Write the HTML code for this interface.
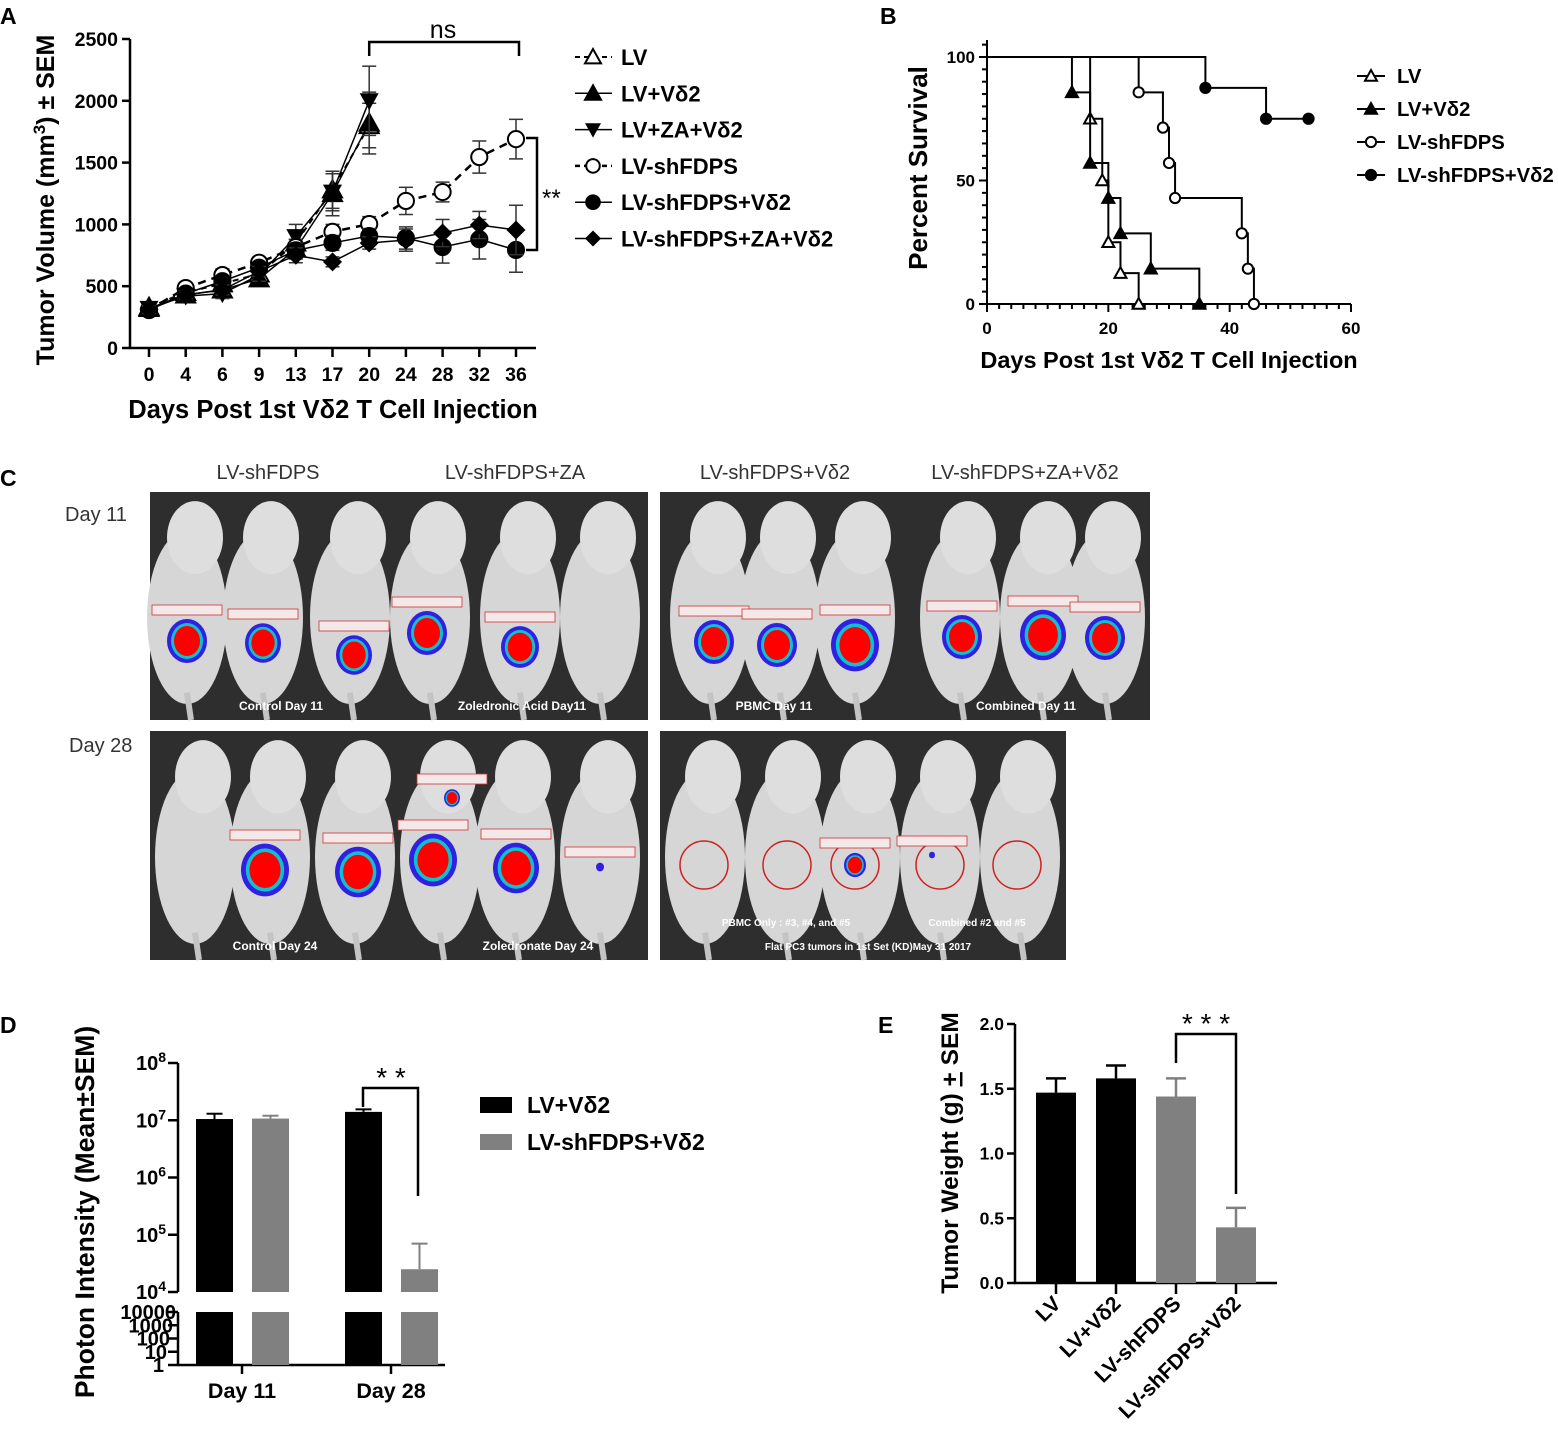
<!DOCTYPE html>
<html><head><meta charset="utf-8"><style>
html,body{margin:0;padding:0;background:#fff}
svg{display:block}
text{font-family:"Liberation Sans",Arial,sans-serif;font-weight:bold;fill:#000}
.n{font-weight:normal}
</style></head><body>
<svg id="fig" width="1558" height="1444" viewBox="0 0 1558 1444" xmlns="http://www.w3.org/2000/svg">
<g id="A"></g>
<g id="B"></g>
<g id="C"></g>
<g id="D"></g>
<g id="E"></g>
</svg>
<script>
// ---------- Panel A data ----------
const aDays = ["0","4","6","9","13","17","20","24","28","32","36"];
const aYTicks = [0,500,1000,1500,2000,2500];
const aLV = [330,450,520,600,850,1280,1800];
const aLVErr = [30,30,40,50,80,150,180];
const aLVV = [320,430,470,560,800,1250,1820];
const aLVVErr = [30,30,40,50,80,180,250];
const aLVZV = [320,420,440,590,900,1260,2000];
const aLVZVErr = [30,30,40,50,100,150,280];
const aSh = [307,485,590,690,817,940,1003,1190,1262,1545,1690];
const aShErr = [30,30,50,40,60,60,60,110,80,130,160];
const aShV = [310,440,540,650,790,850,906,890,817,880,793];
const aShVErr = [30,30,40,40,60,60,60,90,130,160,180];
const aShZV = [310,430,470,620,750,697,850,873,930,995,955];
const aShZVErr = [30,30,40,40,60,40,50,90,110,110,200];

// ---------- Panel B data ----------
const bXTicks = [0,20,40,60];
const bYTicks = [0,50,100];
const bLV = [[0,100],[17,75],[19,50],[20,25],[22,12.5],[25,0]];
const bLVV = [[0,100],[14,85.7],[17,57.1],[20,42.9],[22,28.6],[27,14.3],[35,0]];
const bSh = [[0,100],[25,85.7],[29,71.4],[30,57.1],[31,42.9],[42,28.6],[43,14.3],[44,0]];
const bShV = [[0,100],[36,87.5],[46,75],[53,75]];

// ---------- Panel D data ----------
const dGroups = ["Day 11","Day 28"];
const dBlack = [1.05e7,1.4e7];
const dBlackErr = [1.3e7,1.55e7];
const dGray = [1.07e7,2.5e4];
const dGrayErr = [1.2e7,7e4];
const dExp = [4,5,6,7,8];
const dLowTicks = ["10000","1000","100","10","1"];

// ---------- Panel E data ----------
const eCats = ["LV","LV+Vδ2","LV-shFDPS","LV-shFDPS+Vδ2"];
const eVals = [1.47,1.58,1.44,0.43];
const eErr = [0.11,0.10,0.14,0.15];
const eYTicks = ["0.0","0.5","1.0","1.5","2.0"];

const NS="http://www.w3.org/2000/svg";
function mk(parent,tag,attrs,txt){const e=document.createElementNS(NS,tag);for(const k in attrs)e.setAttribute(k,attrs[k]);if(txt!==undefined)e.textContent=txt;parent.appendChild(e);return e;}
function ln(p,x1,y1,x2,y2,w,c,dash){const e=mk(p,'line',{x1,y1,x2,y2,stroke:c||'#000','stroke-width':w||2});if(dash)e.setAttribute('stroke-dasharray',dash);return e;}
function marker(p,type,x,y,r){
  let e;
  if(type==='tri'||type==='otri'){e=mk(p,'polygon',{points:`${x},${y-r} ${x-r},${y+r*0.8} ${x+r},${y+r*0.8}`,fill:type==='tri'?'#000':'#fff',stroke:'#000','stroke-width':2});}
  else if(type==='dtri'){e=mk(p,'polygon',{points:`${x},${y+r} ${x-r},${y-r*0.8} ${x+r},${y-r*0.8}`,fill:'#000'});}
  else if(type==='circ'||type==='ocirc'){e=mk(p,'circle',{cx:x,cy:y,r:r*0.85,fill:type==='circ'?'#000':'#fff',stroke:'#000','stroke-width':2});}
  else {e=mk(p,'polygon',{points:`${x},${y-r} ${x+r},${y} ${x},${y+r} ${x-r},${y}`,fill:'#000'});}
  return e;
}

// ================= Panel A =================
(function(){
  const g=document.getElementById('A');
  const ax0=130, y0=348, yTop=39;
  const xs=i=>149+i*36.7;
  const ys=v=>y0-(v/2500)*(y0-yTop);
  mk(g,'text',{x:0,y:24,'font-size':23,},'A');
  ln(g,ax0,yTop,ax0,y0+1,2.5); ln(g,ax0-1,y0,536,y0,2.5);
  aYTicks.forEach(v=>{ln(g,ax0-8,ys(v),ax0,ys(v),2.5);const t=mk(g,'text',{x:ax0-12,y:ys(v)+7,'font-size':19.5,'text-anchor':'end'},v);});
  aDays.forEach((d,i)=>{ln(g,xs(i),y0,xs(i),y0+9,2.5);const t=mk(g,'text',{x:xs(i),y:381,'font-size':19.5,'text-anchor':'middle'},d);});
  mk(g,'text',{x:333,y:418,'font-size':25.5,'text-anchor':'middle',},'Days Post 1st Vδ2 T Cell Injection');
  const yt=mk(g,'text',{x:0,y:0,'font-size':25,'text-anchor':'middle',transform:'translate(54,200) rotate(-90)',});
  yt.innerHTML='Tumor Volume (mm<tspan dy="-9" font-size="17">3</tspan><tspan dy="9">) ± SEM</tspan>';
  const series=[
    {n:'lv',v:aLV,e:aLVErr,m:'otri',d:'6,5',w:2},
    {n:'lv-vd2',v:aLVV,e:aLVVErr,m:'tri',w:1.5},
    {n:'lv-za-vd2',v:aLVZV,e:aLVZVErr,m:'dtri',w:1.5},
    {n:'lv-shfdps',v:aSh,e:aShErr,m:'ocirc',d:'8,6',w:2.5},
    {n:'lv-shfdps-vd2',v:aShV,e:aShVErr,m:'circ',w:1.5},
    {n:'lv-shfdps-za-vd2',v:aShZV,e:aShZVErr,m:'dia',w:1.5}];
  series.forEach(s=>{
    const sg=mk(g,'g',{});
    
    
    s.v.forEach((v,i)=>{const x=xs(i);ln(sg,x,ys(v+s.e[i]),x,ys(v-s.e[i]),1.5,'#333');ln(sg,x-7,ys(v+s.e[i]),x+7,ys(v+s.e[i]),1.5,'#333');ln(sg,x-7,ys(v-s.e[i]),x+7,ys(v-s.e[i]),1.5,'#333');});
    const pts=s.v.map((v,i)=>xs(i)+','+ys(v)).join(' ');
    const pl=mk(sg,'polyline',{points:pts,fill:'none',stroke:'#000','stroke-width':s.w});
    if(s.d)pl.setAttribute('stroke-dasharray',s.d);
    s.v.forEach((v,i)=>{const m=marker(sg,s.m,xs(i),ys(v),9.5);});
  });
  const br=mk(g,'g',{});
  mk(br,'polyline',{points:`${xs(6)},56 ${xs(6)},42 ${xs(10)+3},42 ${xs(10)+3},56`,fill:'none',stroke:'#000','stroke-width':2.5});
  mk(br,'text',{x:443,y:38,'font-size':25,'text-anchor':'middle',class:'n'},'ns');
  const br2=mk(g,'g',{});
  mk(br2,'polyline',{points:`526,138 537,138 537,250 526,250`,fill:'none',stroke:'#000','stroke-width':2.5});
  mk(br2,'text',{x:542,y:206,'font-size':24,class:'n'},'**');
  const labs=['LV','LV+Vδ2','LV+ZA+Vδ2','LV-shFDPS','LV-shFDPS+Vδ2','LV-shFDPS+ZA+Vδ2'];
  series.forEach((s,i)=>{
    const y=57+i*36.3;
    const lg=mk(g,'g',{});
    
    
    const l=ln(lg,575,y,612,y,s.w);if(s.d)l.setAttribute('stroke-dasharray','5,4');
    marker(lg,s.m,593,y,8);
    mk(lg,'text',{x:621,y:y+8,'font-size':22},labs[i]);
  });
})();

// ================= Panel B =================
(function(){
  const g=document.getElementById('B');
  const x0=987,x1=1351,y0=304,y100=57;
  const xs=d=>x0+d*(x1-x0)/60, ys=v=>y0-v*(y0-y100)/100;
  mk(g,'text',{x:880,y:24,'font-size':23,},'B');
  ln(g,x0,40,x0,y0+1,2); ln(g,x0-1,y0,x1,y0,2);
  for(let v=0;v<=105;v+=5){ln(g,x0-(v%50===0?8:5),ys(v),x0,ys(v),2);}
  for(let d=0;d<=60;d+=2){ln(g,xs(d),y0,xs(d),y0+(d%20===0?8:5),2);}
  bYTicks.forEach(v=>{const t=mk(g,'text',{x:x0-12,y:ys(v)+6,'font-size':17,'text-anchor':'end'},v);});
  bXTicks.forEach(d=>{const t=mk(g,'text',{x:xs(d),y:334,'font-size':17,'text-anchor':'middle'},d);});
  mk(g,'text',{x:1169,y:368,'font-size':23.5,'text-anchor':'middle',},'Days Post 1st Vδ2 T Cell Injection');
  mk(g,'text',{x:0,y:0,'font-size':26,'text-anchor':'middle',transform:'translate(927,168) rotate(-90)',},'Percent Survival');
  const series=[{n:'lv',d:bLV,m:'otri',l:'LV'},{n:'lv-vd2',d:bLVV,m:'tri',l:'LV+Vδ2'},{n:'lv-shfdps',d:bSh,m:'ocirc',l:'LV-shFDPS'},{n:'lv-shfdps-vd2',d:bShV,m:'circ',l:'LV-shFDPS+Vδ2'}];
  series.forEach((s,si)=>{
    const sg=mk(g,'g',{});
    
    
    let p=[];
    s.d.forEach((pt,i)=>{if(i>0)p.push(xs(pt[0])+','+ys(s.d[i-1][1]));p.push(xs(pt[0])+','+ys(pt[1]));});
    mk(sg,'polyline',{points:p.join(' '),fill:'none',stroke:'#000','stroke-width':2});
    s.d.forEach((pt,i)=>{if(i>0){const m=marker(sg,s.m,xs(pt[0]),ys(pt[1]),6);}});
    const y=76+si*33;
    const lg=mk(g,'g',{});
    
    
    ln(lg,1357,y,1385,y,2);marker(lg,s.m,1371,y,6);
    mk(lg,'text',{x:1397,y:y+7,'font-size':20.3},s.l);
  });
})();

// ================= Panel C =================
(function(){
  const g=document.getElementById('C');
  mk(g,'text',{x:0,y:486,'font-size':23,},'C');
  const heads=[['LV-shFDPS',268],['LV-shFDPS+ZA',515],['LV-shFDPS+Vδ2',775],['LV-shFDPS+ZA+Vδ2',1025]];
  heads.forEach(h=>{const t=mk(g,'text',{x:h[1],y:479,'font-size':20,'text-anchor':'middle',class:'n'},h[0]);t.style.fill='#333';});
  const d1=mk(g,'text',{x:65,y:521,'font-size':20,class:'n',},'Day 11');d1.style.fill='#333';
  const d2=mk(g,'text',{x:69,y:752,'font-size':20,class:'n',},'Day 28');d2.style.fill='#333';
  const panels=[
    {x:150,y:492,w:498,h:228,mice:[187,263,350,430,520,600],blobs:[[187,641,20],[263,643,18],[354,655,18],[427,633,20],[520,647,19]],cap:[['Control Day 11',281],['Zoledronic Acid Day11',522]],n:'day11-left'},
    {x:660,y:492,w:490,h:228,mice:[710,780,855,960,1040,1105],blobs:[[714,642,20],[777,645,20],[855,645,24],[962,637,20],[1043,635,23],[1105,638,20]],cap:[['PBMC Day 11',774],['Combined Day 11',1026]],n:'day11-right'},
    {x:150,y:731,w:498,h:229,mice:[195,270,355,440,515,600],blobs:[[265,870,24],[358,872,23],[433,860,24],[516,868,23],[600,867,4],[452,798,8]],cap:[['Control Day 24',275],['Zoledronate Day 24',538]],n:'day28-left'},
    {x:660,y:731,w:406,h:229,mice:[705,785,860,940,1020],blobs:[[855,865,11],[932,855,3]],circles:[704,787,855,940,1017],cap:[['PBMC Only : #3, #4, and #5',786],['Combined #2 and #5',977],['Flat PC3 tumors in 1st Set (KD)May 31 2017',868]],n:'day28-right'}];
  panels.forEach(P=>{
    const pg=mk(g,'g',{});
    
    
    mk(pg,'rect',{x:P.x,y:P.y,width:P.w,height:P.h,fill:'#2e2e2e'});
    P.mice.forEach(mx=>{
      mk(pg,'ellipse',{cx:mx,cy:P.y+P.h*0.55,rx:40,ry:P.h*0.38,fill:'#d6d6d6'});
      mk(pg,'ellipse',{cx:mx+8,cy:P.y+P.h*0.2,rx:28,ry:P.h*0.16,fill:'#dedede'});
      ln(pg,mx,P.y+P.h*0.88,mx+4,P.y+P.h,6,'#c4c4c4');
    });
    (P.circles||[]).forEach(cx=>{mk(pg,'circle',{cx,cy:865,r:24,fill:'none',stroke:'#d02020','stroke-width':1.5});});
    P.blobs.forEach(b=>{
      mk(pg,'ellipse',{cx:b[0],cy:b[1],rx:b[2],ry:b[2]*1.1,fill:'#3020e0'});
      if(b[2]>6){mk(pg,'ellipse',{cx:b[0],cy:b[1],rx:b[2]*0.8,ry:b[2]*0.9,fill:'#10c0d0'});
      mk(pg,'ellipse',{cx:b[0],cy:b[1],rx:b[2]*0.65,ry:b[2]*0.75,fill:'#f00'});}
      mk(pg,'rect',{x:b[0]-35,y:b[1]-b[2]-16,width:70,height:10,fill:'#f4e8e8',stroke:'#c33','stroke-width':0.8});
    });
    P.cap.forEach((c,i)=>{const y=i===2?P.y+P.h-10:P.y+P.h-10-(P.n==='day28-right'?24:0);const t=mk(pg,'text',{x:c[1],y:y,'font-size':P.n==='day28-right'?10:12,'text-anchor':'middle'},c[0]);t.style.fill='#fff';});
  });
})();

// ================= Panel D =================
(function(){
  const g=document.getElementById('D');
  const ax=178, yTop=1063, dec=57.25, yBreak=1292;
  const ys=v=>yBreak-(Math.log10(v)-4)*dec;
  const lowTop=1312, lowBot=1365, lowY=i=>lowTop+i*(lowBot-lowTop)/4;
  mk(g,'text',{x:0,y:1033,'font-size':23,},'D');
  ln(g,ax,yTop,ax,yBreak,2.5); ln(g,ax,lowTop,ax,lowBot,2.5); ln(g,ax-1,lowBot,445,lowBot,2.5);
  dExp.forEach(e=>{const y=ys(Math.pow(10,e));ln(g,ax-10,y,ax,y,2.5);const t=mk(g,'text',{x:ax-12,y:y+7,'font-size':20,'text-anchor':'end'});t.innerHTML='10<tspan dy="-8" font-size="14">'+e+'</tspan>';});
  dLowTicks.forEach((l,i)=>{const y=lowY(i);ln(g,ax-10,y,ax,y,2.5);const t=mk(g,'text',{x:ax-2-i*3,y:y+7,'font-size':20,'text-anchor':'end'},l);});
  mk(g,'text',{x:0,y:0,'font-size':26.5,'text-anchor':'middle',transform:'translate(94,1212) rotate(-90)',},'Photon Intensity (Mean±SEM)');
  const cx=[242,391];
  dGroups.forEach((gr,i)=>{
    ln(g,cx[i],lowBot,cx[i],lowBot+9,2.5);
    const t=mk(g,'text',{x:cx[i],y:1398,'font-size':21.5,'text-anchor':'middle'},gr);
    [[dBlack,dBlackErr,'#000',-46],[dGray,dGrayErr,'#808080',10]].forEach((s,k)=>{
      const x=cx[i]+s[3], w=37, top=ys(s[0][i]);
      const b=mk(g,'rect',{x,y:top,width:w,height:yBreak-top,fill:s[2]});
      
      
      mk(g,'rect',{x,y:lowTop,width:w,height:lowBot-lowTop,fill:s[2]});
      const et=ys(s[1][i]);ln(g,x+w/2,et,x+w/2,top,2,s[2]);ln(g,x+w/2-8,et,x+w/2+8,et,2,s[2]);
    });
  });
  const br=mk(g,'g',{});
  mk(br,'polyline',{points:`363,1107 363,1088 418,1088 418,1196`,fill:'none',stroke:'#000','stroke-width':2.5});
  mk(br,'text',{x:391,y:1087,'font-size':28,'text-anchor':'middle',class:'n'},'* *');
  [['#000','LV+Vδ2',1097],['#808080','LV-shFDPS+Vδ2',1134]].forEach(l=>{
    const lg=mk(g,'g',{});
    
    
    mk(lg,'rect',{x:480,y:l[2],width:32,height:16,fill:l[0]});
    mk(lg,'text',{x:527,y:l[2]+16,'font-size':23},l[1]);
  });
})();

// ================= Panel E =================
(function(){
  const g=document.getElementById('E');
  const ax=1015, y0=1283, yTop=1024;
  const ys=v=>y0-v*(y0-yTop)/2;
  mk(g,'text',{x:878,y:1033,'font-size':23,},'E');
  ln(g,ax,yTop,ax,y0+1,2.5); ln(g,ax-1,y0,1277,y0,2.5);
  eYTicks.forEach(l=>{const y=ys(parseFloat(l));ln(g,ax-8,y,ax,y,2.5);const t=mk(g,'text',{x:ax-11,y:y+6,'font-size':17.5,'text-anchor':'end'},l);});
  const yt=mk(g,'text',{x:0,y:0,'font-size':24.5,'text-anchor':'middle',transform:'translate(958,1153) rotate(-90)',});
  yt.innerHTML='Tumor Weight (g) <tspan text-decoration="underline">+</tspan> SEM';
  eCats.forEach((c,i)=>{
    const cx=1056+i*60, col=i<2?'#000':'#808080', top=ys(eVals[i]);
    const b=mk(g,'rect',{x:cx-20,y:top,width:40,height:y0-top,fill:col});
    
    
    const et=ys(eVals[i]+eErr[i]);ln(g,cx,et,cx,top,2.5,col);ln(g,cx-10,et,cx+10,et,2.5,col);
    ln(g,cx,y0,cx,y0+11,2.5);
    const t=mk(g,'text',{x:0,y:0,'font-size':21,'text-anchor':'end',transform:`translate(${cx+6},${y0+22}) rotate(-45)`},c);
    
  });
  const br=mk(g,'g',{});
  mk(br,'polyline',{points:`1176,1063 1176,1034 1236,1034 1236,1194`,fill:'none',stroke:'#000','stroke-width':2.5});
  mk(br,'text',{x:1206,y:1033,'font-size':28,'text-anchor':'middle',class:'n'},'* * *');
})();
</script>
</body></html>
